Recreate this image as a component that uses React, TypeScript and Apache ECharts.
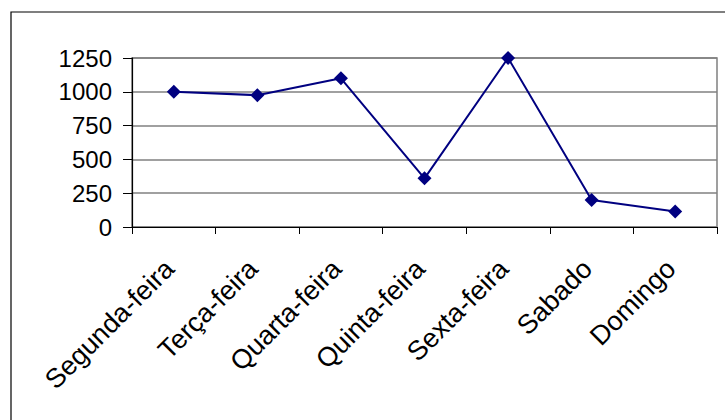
import React, { useEffect, useRef } from "react";
import * as echarts from "echarts";

const categories = ["Segunda-feira", "Terça-feira", "Quarta-feira", "Quinta-feira", "Sexta-feira", "Sabado", "Domingo"];
const values = [1000, 975, 1100, 360, 1250, 200, 115];
const yMin = 0;
const yMax = 1250;
const yStep = 250;

const FONT = "'Liberation Sans', Arial, sans-serif";

export default function App() {
  const ref = useRef<HTMLDivElement>(null);
  useEffect(() => {
    if (!ref.current) return;
    const chart = echarts.init(ref.current, null, { renderer: "svg" });
    chart.setOption({
      animation: false,
      backgroundColor: "#ffffff",
      textStyle: { fontFamily: FONT },
      graphic: [
        {
          type: "rect",
          shape: { x: 11, y: 12, width: 760, height: 460 },
          style: { fill: "none", stroke: "#000", lineWidth: 1.2 },
          silent: true,
        },
      ],
      grid: { left: 132, right: 8, top: 58, bottom: 193, containLabel: false, outerBoundsMode: "none", show: true, borderColor: "#808080", borderWidth: 1.5, backgroundColor: "transparent" },
      xAxis: {
        type: "category",
        data: categories,
        boundaryGap: true,
        axisLine: { show: true, lineStyle: { color: "#000", width: 1.2 } },
        axisTick: { show: true, length: 7, lineStyle: { color: "#000", width: 1 } },
        axisLabel: {
          rotate: 45,
          interval: 0,
          margin: 33,
          padding: [0, 6, 0, 0],
          color: "#000",
          fontSize: 27,
          fontFamily: FONT,
        },
        splitLine: { show: false },
      },
      yAxis: {
        type: "value",
        min: yMin,
        max: yMax,
        interval: yStep,
        axisLine: { show: true, lineStyle: { color: "#000", width: 1.2 } },
        axisTick: { show: true, length: 9, lineStyle: { color: "#000", width: 1 } },
        axisLabel: { margin: 20, color: "#000", fontSize: 24, fontFamily: FONT, formatter: (v: number) => String(v) },
        splitLine: { show: true, lineStyle: { color: "#808080", width: 1.5 } },
      },
      series: [
        {
          type: "line",
          data: values,
          symbol: "diamond",
          symbolSize: [14, 14],
          itemStyle: { color: "#000080" },
          lineStyle: { color: "#000080", width: 2 },
        },
      ],
    });
    return () => chart.dispose();
  }, []);
  return (
    <div
      ref={ref}
      style={{ position: "fixed", left: 0, top: 0, width: 725, height: 420, background: "#fff" }}
    />
  );
}
